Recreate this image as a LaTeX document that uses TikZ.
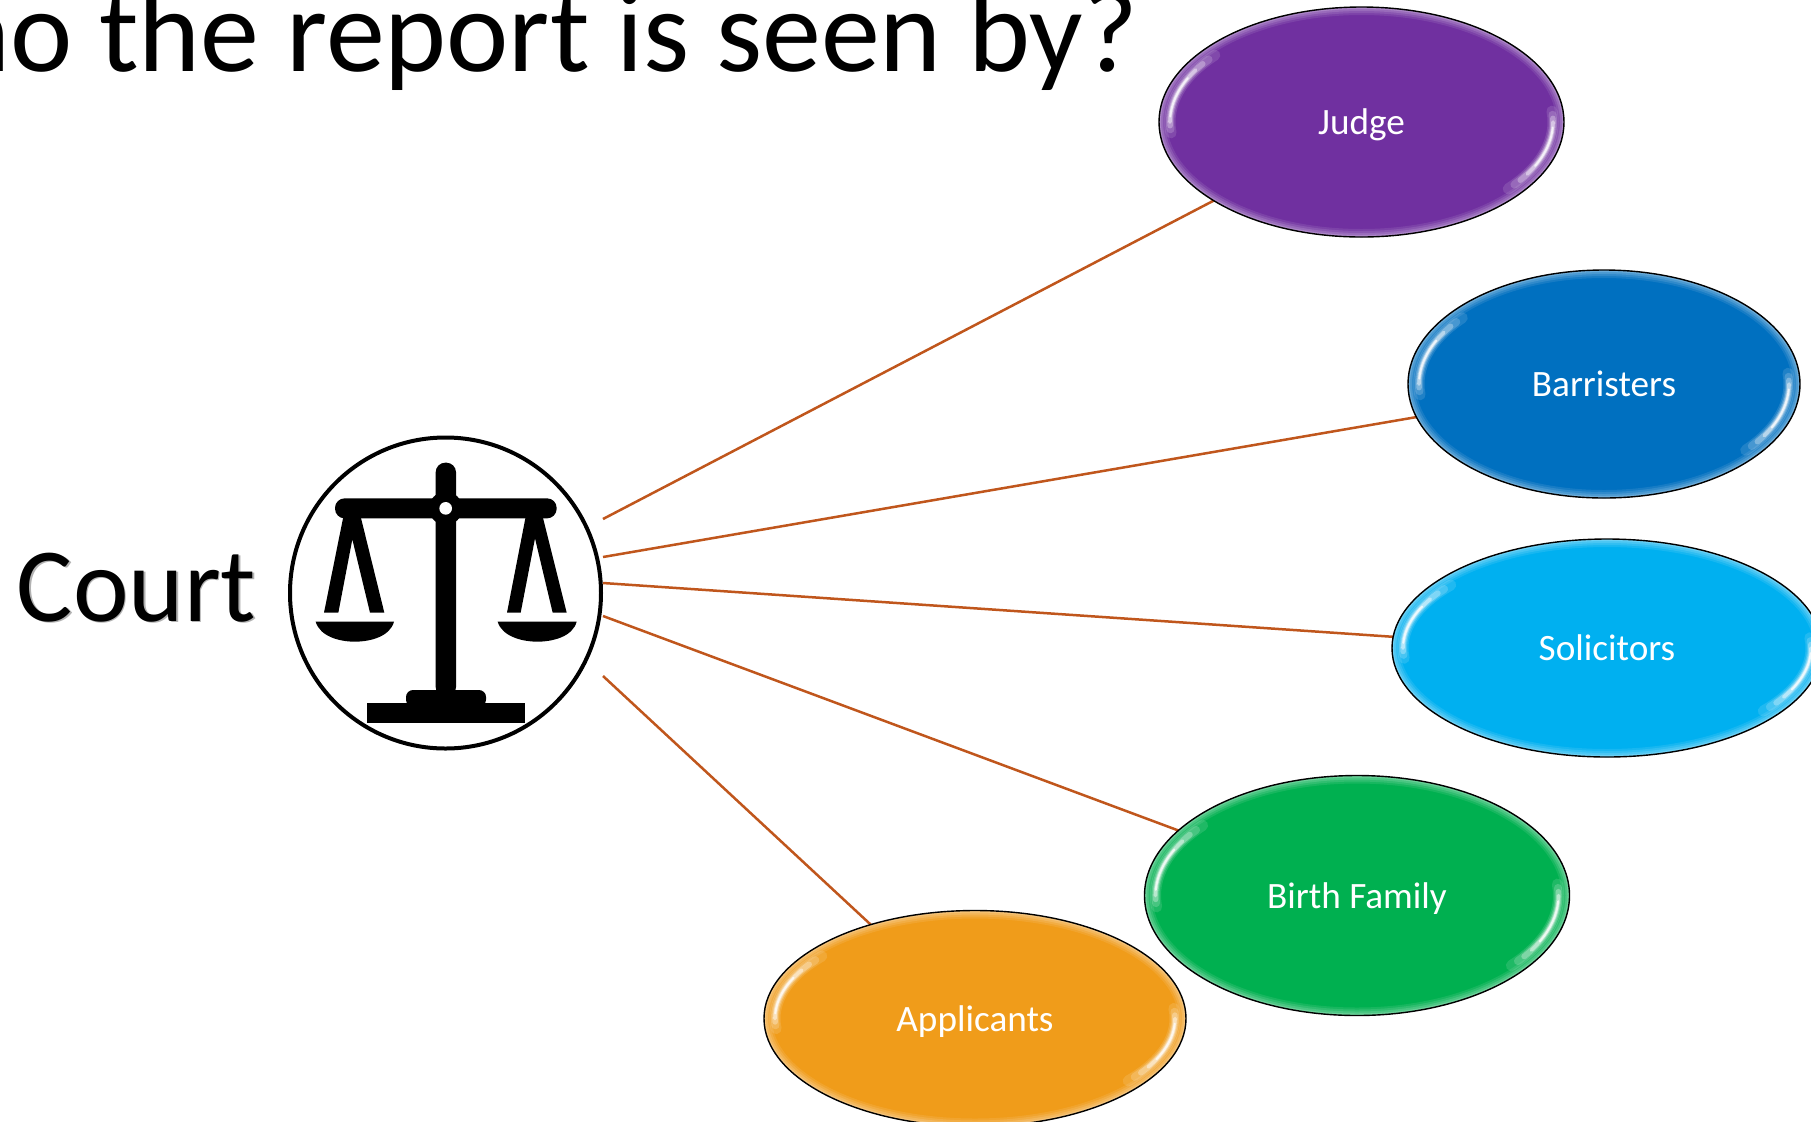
\documentclass[tikz,border=0pt]{standalone}
\usepackage{fontspec}
\setmainfont{Carlito}
\definecolor{cpurple}{HTML}{7030A0}
\definecolor{cblue}{HTML}{0070C0}
\definecolor{ccyan}{HTML}{00B0F0}
\definecolor{cgreen}{HTML}{00B050}
\definecolor{corange}{HTML}{F09C1A}
\definecolor{clink}{HTML}{C0561C}
\usetikzlibrary{shapes.geometric}
\tikzset{
  px/.style={x=0.5pt,y=-0.5pt},
  glossy/.style={ellipse,fill=#1,inner sep=0pt,outer sep=0pt,text=white,
    text depth=0pt,font=\fontsize{18.6pt}{22pt}\selectfont},
  rimline/.style={draw=black,line width=0.7pt},
  linkline/.style={draw=clink,line width=1.25pt},
  bigtext/.style={anchor=base west,inner sep=0pt,outer sep=0pt,text=black},
}
% gloss on top of an ellipse node: node name, half width (pt), half height (pt)
\newcommand{\glossover}[3]{%
  \begin{scope}[shift={(#1.center)},x=1pt,y=1pt]
    \begin{scope}
      \clip (0,0) ellipse[x radius=#2pt,y radius=#3pt];
      \foreach \wd/\op in {8/.09,6/.11,4/.13,2/.18}{
        \draw[white,opacity=\op,line width=\wd pt] (0,0) ellipse[x radius=#2pt,y radius=#3pt];
      }
      \foreach \sa/\ea/\wd/\op in {186/140/5.5/.12, 184/143/4/.18, 182/146/2.8/.3, 180/150/1.8/.45, 177/155/1/.75}{
        \draw[white,opacity=\op,line cap=round,line width=\wd pt]
          ({(#2-5.5)*cos(\sa)},{(#3-5.5)*sin(\sa)}) arc[start angle=\sa,end angle=\ea,x radius=#2-5.5,y radius=#3-5.5];
        \draw[white,opacity=\op,line cap=round,line width=\wd pt]
          ({(#2-5.5)*cos(\sa+180)},{(#3-5.5)*sin(\sa+180)}) arc[start angle=\sa+180,end angle=\ea+180,x radius=#2-5.5,y radius=#3-5.5];
      }
    \end{scope}
    \draw[rimline] (0,0) ellipse[x radius=#2pt,y radius=#3pt];
  \end{scope}}
\begin{document}
\begin{tikzpicture}[px]
\useasboundingbox (0,0) rectangle (1811,1121);
\fill[white] (0,0) rectangle (1811,1121);
\node[bigtext,anchor=base east,font=\fontsize{59pt}{66pt}\selectfont] (title) at (1138,71) {ho the report is seen by?};
\node[bigtext,text=black!30,font=\fontsize{52.7pt}{60pt}\selectfont] (courtshadow) at (18.5,622.5) {Court};
\node[bigtext,font=\fontsize{52.7pt}{60pt}\selectfont] (court) at (17,621) {Court};

\node[circle,draw=black,line width=2pt,fill=white,minimum size=155.5pt,inner sep=0pt,outer sep=0pt] (hub) at (445.5,593) {};

\coordinate (s1) at (603,519);
\coordinate (s2) at (603,557);
\coordinate (s3) at (603,583);
\coordinate (s4) at (603,616);
\coordinate (s5) at (603,676);

\node[glossy=cpurple,minimum width=202.5pt,minimum height=115pt] (judge) at (1361.5,122) {};
\node[glossy=cblue,minimum width=196pt,minimum height=114pt] (barr) at (1604,384) {};
\node[glossy=ccyan,minimum width=215pt,minimum height=109pt] (sol) at (1607,648) {};
\node[glossy=cgreen,minimum width=212.5pt,minimum height=120pt] (birth) at (1357,895.5) {};
\node[glossy=corange,minimum width=211pt,minimum height=108pt] (appl) at (975,1018.5) {};

\draw[linkline] (s1) -- (judge.208.1);
\draw[linkline] (s2) -- (barr.190.5);
\draw[linkline] (s3) -- (sol.177);
\draw[linkline] (s4) -- (birth.160.3);
\draw[linkline] (s5) -- (appl.138);

\glossover{judge}{101.25}{57.5}
\glossover{barr}{98}{57}
\glossover{sol}{107.5}{54.5}
\glossover{birth}{106.25}{60}
\glossover{appl}{105.5}{54}

\node[glossy=none,fill=none] (tjudge) at (judge.center) {Judge};
\node[glossy=none,fill=none] (tbarr) at (barr.center) {Barristers};
\node[glossy=none,fill=none] (tsol) at (sol.center) {Solicitors};
\node[glossy=none,fill=none] (tbirth) at (birth.center) {Birth Family};
\node[glossy=none,fill=none] (tappl) at (appl.center) {Applicants};

\begin{scope}[shift={(270,420)},x=0.16667pt,y=-0.16667pt]
  \fill[black,rounded corners=4.8pt] (497,830) -- (497,128) -- (558,128) -- (558,830) -- cycle;
  \fill[black,rounded corners=4.8pt] (195,235) rectangle (860,295);
  \fill[black] (527,265) circle[radius=50];
  \fill[white] (527,265) circle[radius=19];
  \fill[black] (220,290) -- (162,578) -- (205,578) -- (247,358) -- (300,578) -- (343,578) -- (272,290) -- cycle;
  \fill[black] (767,290) -- (711,578) -- (752,578) -- (795,355) -- (848,578) -- (890,578) -- (818,290) -- cycle;
  \fill[black] (137,605) -- (372,605) .. controls (360,650) and (300,665) .. (254,665) .. controls (210,665) and (150,650) .. (137,605) -- cycle;
  \fill[black] (683,605) -- (920,605) .. controls (908,650) and (848,665) .. (802,665) .. controls (758,665) and (696,650) .. (683,605) -- cycle;
  \fill[black] (291,850) rectangle (764,910);
  \fill[black,rounded corners=3.5pt] (408,860) -- (408,810) -- (648,810) -- (648,860) -- cycle;
\end{scope}
\end{tikzpicture}
\end{document}
